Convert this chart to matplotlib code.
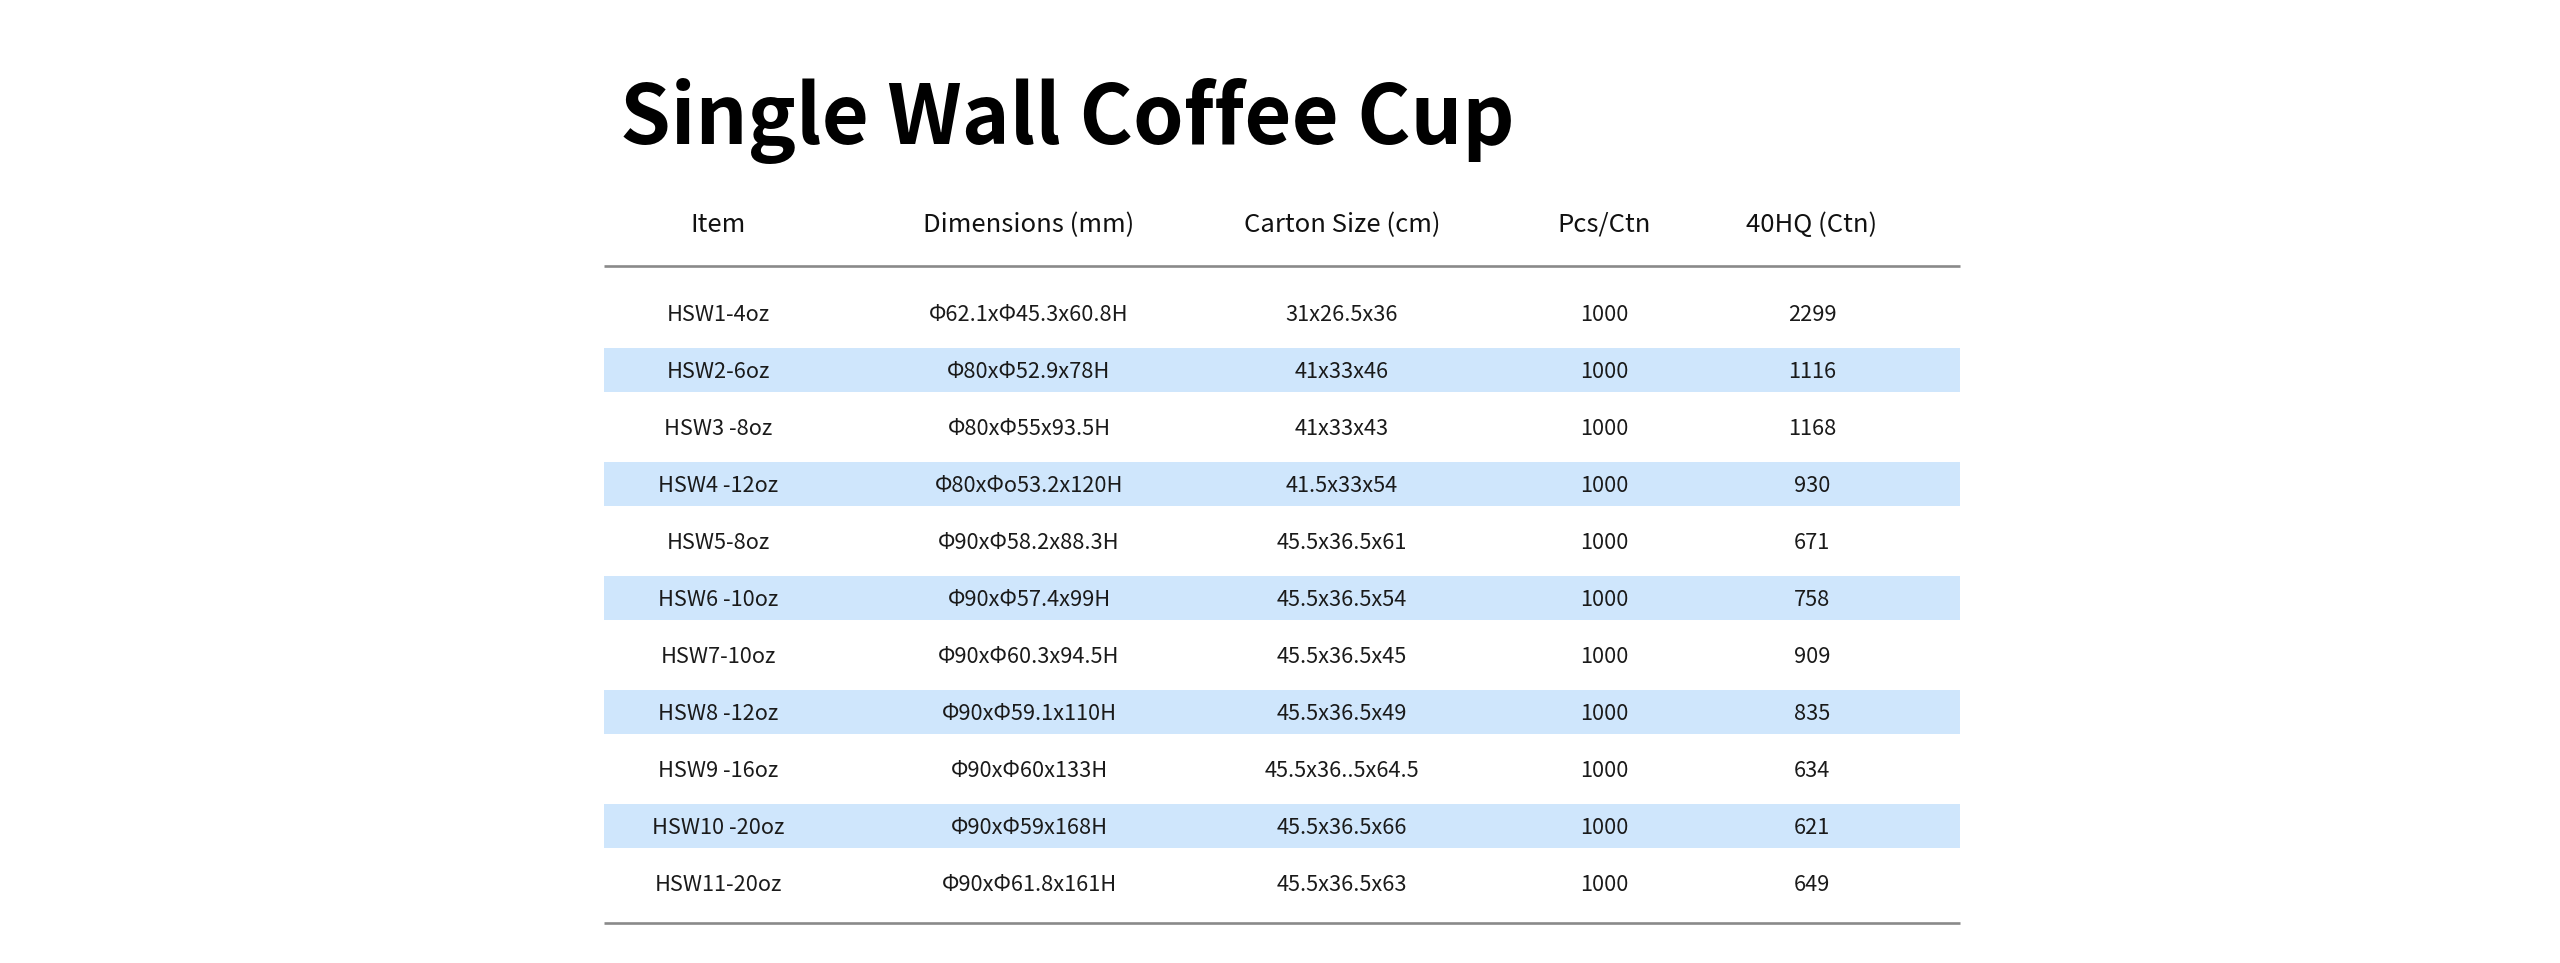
import matplotlib
matplotlib.use("Agg")
import matplotlib.pyplot as plt

# table data
headers = ["Item", "Dimensions (mm)", "Carton Size (cm)", "Pcs/Ctn", "40HQ (Ctn)"]
items = ["HSW1-4oz", "HSW2-6oz", "HSW3 -8oz", "HSW4 -12oz", "HSW5-8oz", "HSW6 -10oz",
         "HSW7-10oz", "HSW8 -12oz", "HSW9 -16oz", "HSW10 -20oz", "HSW11-20oz"]
dimensions = ["Φ62.1xΦ45.3x60.8H", "Φ80xΦ52.9x78H", "Φ80xΦ55x93.5H", "Φ80xΦo53.2x120H",
              "Φ90xΦ58.2x88.3H", "Φ90xΦ57.4x99H", "Φ90xΦ60.3x94.5H", "Φ90xΦ59.1x110H",
              "Φ90xΦ60x133H", "Φ90xΦ59x168H", "Φ90xΦ61.8x161H"]
carton_sizes = ["31x26.5x36", "41x33x46", "41x33x43", "41.5x33x54", "45.5x36.5x61",
                "45.5x36.5x54", "45.5x36.5x45", "45.5x36.5x49", "45.5x36..5x64.5",
                "45.5x36.5x66", "45.5x36.5x63"]
pcs_per_ctn = [1000] * 11
hq40_ctn = [2299, 1116, 1168, 930, 671, 758, 909, 835, 634, 621, 649]

# layout (pixels)
W, H = 2560, 963
col_x = [718, 1029, 1342, 1604, 1812]
left, right = 604, 1960
row0, row_h, band_h = 313, 57, 44

plt.rcParams['font.family'] = ['Noto Sans CJK SC', 'DejaVu Sans']

fig = plt.figure(figsize=(W / 100, H / 100), dpi=100)
ax = fig.add_axes([0, 0, 1, 1])
ax.set_xlim(0, W)
ax.set_ylim(H, 0)
ax.axis("off")

ax.text(620, 144, "Single Wall Coffee Cup", fontsize=58.5, fontweight="bold",
        color="#000000", ha="left", va="baseline")

for x, h in zip(col_x, headers):
    ax.text(x, 232, h, fontsize=18.5, fontweight="medium", color="#111111",
            ha="center", va="baseline")

ax.hlines([266, 923], left, right, colors="#8a8a8a", linewidth=1.9)

rows = list(zip(items, dimensions, carton_sizes, pcs_per_ctn, hq40_ctn))
ys = [row0 + i * row_h for i in range(len(rows))]

# striped rows
band_y = [y for i, y in enumerate(ys) if i % 2 == 1]
ax.barh(band_y, right - left, left=left, height=band_h, color="#cfe6fc", zorder=0)

for y, row in zip(ys, rows):
    for x, val in zip(col_x, row):
        ax.text(x, y + 8, str(val), fontsize=15.7, color="#1a1a1a",
                ha="center", va="baseline")

fig.savefig("out.png", dpi=100, facecolor="white")
